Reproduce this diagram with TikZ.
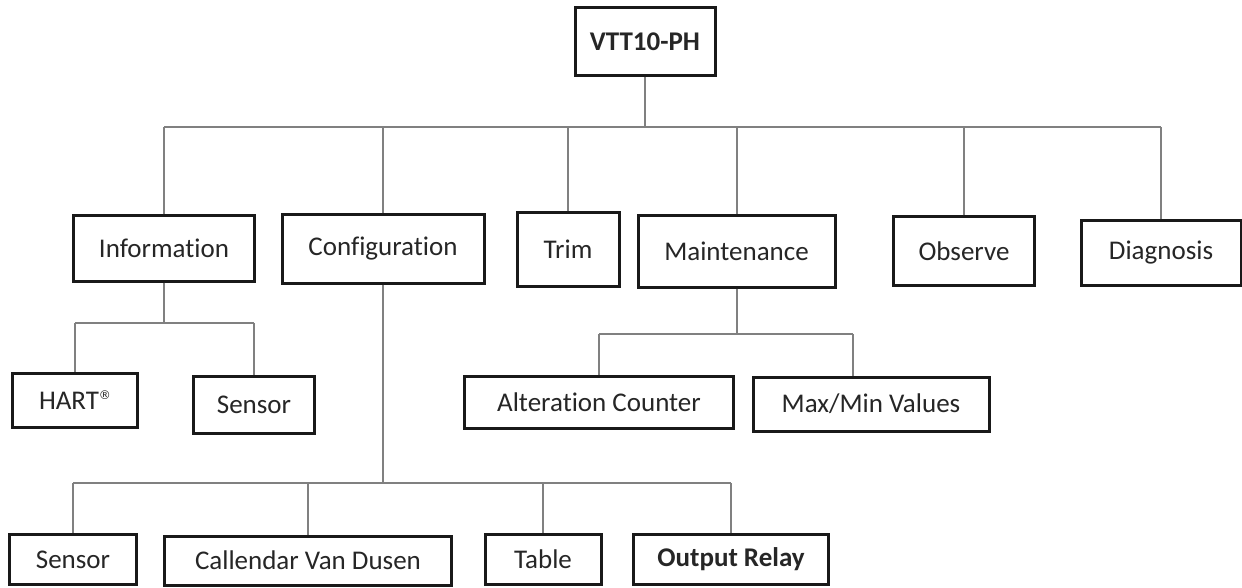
\documentclass[tikz,border=0pt]{standalone}
\usepackage{fontspec}
\setmainfont[Ligatures=NoCommon]{Carlito}
\newfontfamily\regfont{DejaVu Sans}
\tikzset{
  box/.style={draw=black!90, line width=3pt, fill=white, inner sep=0pt,
    text=black!85, font=\fontsize{27}{32}\selectfont, anchor=center},
  conn/.style={draw=black!50, line width=2pt},
}
\begin{document}
\begin{tikzpicture}[x=1pt,y=-1pt]
\useasboundingbox[fill=white] (0,0) rectangle (1242,588);
% buses
\coordinate (b1) at (0,127);
\coordinate (b2) at (0,323);
\coordinate (b3) at (0,334);
\coordinate (b4) at (0,483);
% root
\node[box, minimum width=140, minimum height=68, font=\fontsize{27}{32}\selectfont\bfseries] (top) at (645,42) {VTT10-PH};
% level 1
\node[box, minimum width=181, minimum height=65] (info) at (164,248.5) {Information};
\node[box, minimum width=202, minimum height=68] (conf) at (383,249) {Configuration};
\node[box, minimum width=102, minimum height=73] (trim) at (568,249.5) {Trim};
\node[box, minimum width=197, minimum height=71] (maint) at (736.5,251.5) {Maintenance};
\node[box, minimum width=141, minimum height=68] (obs) at (964,251) {Observe};
\node[box, minimum width=160, minimum height=64] (diag) at (1161,253) {Diagnosis};
% information children
\node[box, minimum width=125, minimum height=54] (hart) at (75,400) {HART\raisebox{0.75ex}{\regfont\fontsize{12}{12}\selectfont\textregistered}};
\node[box, minimum width=121, minimum height=57] (sens1) at (254,404.5) {Sensor};
% maintenance children
\node[box, minimum width=269, minimum height=52] (alter) at (599,402) {Alteration Counter};
\node[box, minimum width=236, minimum height=54] (maxmin) at (871,404) {Max/Min Values};
\coordinate (mmin) at ([xshift=-18pt]maxmin.north);
% configuration children
\node[box, minimum width=127, minimum height=50] (sens2) at (73,559.5) {Sensor};
\node[box, minimum width=287, minimum height=49] (cvd) at (308,560.5) {Callendar Van Dusen};
\node[box, minimum width=116, minimum height=50] (table) at (543,559.5) {Table};
\node[box, minimum width=195, minimum height=50, font=\fontsize{27}{32}\selectfont\bfseries] (relay) at (731,559.5) {Output Relay};
% connectors level 0 -> 1
\draw[conn] (top.south) -- (top.south |- b1);
\draw[conn] (info.north |- b1) -- (diag.north |- b1);
\foreach \n in {info,conf,trim,maint,obs,diag}
  \draw[conn] (\n.north) -- (\n.north |- b1);
% information
\draw[conn] (info.south) -- (info.south |- b2);
\draw[conn] (hart.north |- b2) -- (sens1.north |- b2);
\foreach \n in {hart,sens1}
  \draw[conn] (\n.north) -- (\n.north |- b2);
% maintenance
\draw[conn] (maint.south) -- (maint.south |- b3);
\draw[conn] (alter.north |- b3) -- (mmin |- b3);
\draw[conn] (alter.north) -- (alter.north |- b3);
\draw[conn] (mmin) -- (mmin |- b3);
% configuration
\draw[conn] (conf.south) -- (conf.south |- b4);
\draw[conn] (sens2.north |- b4) -- (relay.north |- b4);
\foreach \n in {sens2,cvd,table,relay}
  \draw[conn] (\n.north) -- (\n.north |- b4);
\end{tikzpicture}
\end{document}
